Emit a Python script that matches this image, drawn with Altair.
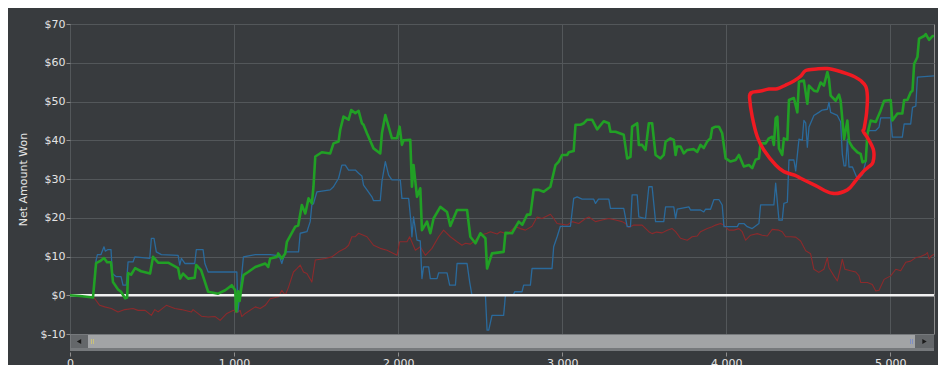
import altair as alt
import pandas as pd

# ---- data: (hand number, net amount won in $) ----
green_series = [
    (0, 0), (61, -0.2), (140, -0.6), (159, 8.3), (183, 8.8), (207, 9.6), (226, 8.5), (250, 8.5),
    (262, 3.4), (293, 1.5), (311, 0.9), (336, -0.8), (348, -0.6), (354, 5.7), (372, 5.3), (397, 7.0),
    (433, 6.2), (488, 5.6), (506, 9.9), (537, 8.4), (598, 8.4), (659, 7.0), (671, 4.3), (689, 5.6),
    (720, 4.3), (760, 4.5), (769, 7.8), (799, 6.5), (842, 0.9), (903, 0.4), (946, 1.3), (986, 2.6),
    (1007, 1.3), (1013, -4.2), (1025, 1.0), (1034, -1.5), (1043, 1.5), (1057, 5.2), (1086, 6.0),
    (1129, 7.3), (1190, 8.2), (1208, 7.3), (1220, 9.5), (1261, 9.9), (1269, 10.8), (1291, 9.5),
    (1312, 10.8), (1322, 13.8), (1373, 17.7), (1391, 18.0), (1413, 23.3), (1434, 21.1), (1454, 25.0),
    (1474, 23.7), (1484, 28.0), (1495, 35.8), (1535, 36.9), (1586, 36.6), (1606, 39.2), (1637, 39.7),
    (1647, 42.7), (1667, 46.1), (1698, 45.3), (1714, 47.8), (1739, 47.0), (1759, 47.6), (1779, 44.4),
    (1789, 44.0), (1810, 41.8), (1850, 37.9), (1891, 36.6), (1901, 41.8), (1922, 46.5), (1942, 43.5),
    (1962, 40.5), (1993, 40.5), (2009, 43.5), (2023, 38.8), (2033, 40.0), (2074, 40.1), (2084, 28.0),
    (2094, 33.6), (2115, 25.4), (2135, 27.6), (2145, 16.8), (2176, 19.0), (2196, 16.0), (2216, 19.8),
    (2257, 22.8), (2298, 21.5), (2318, 17.9), (2359, 22.0), (2420, 22.0), (2440, 15.1), (2471, 13.4),
    (2501, 16.0), (2532, 14.7), (2542, 6.9), (2572, 10.8), (2643, 11.2), (2654, 16.1), (2694, 16.0),
    (2735, 19.0), (2757, 18.2), (2786, 20.8), (2806, 20.8), (2826, 27.2), (2857, 27.2), (2887, 26.7),
    (2928, 28.0), (2959, 33.6), (2979, 34.5), (2999, 36.2), (3030, 36.2), (3040, 36.9), (3070, 37.2),
    (3081, 44.0), (3111, 44.0), (3132, 44.4), (3152, 45.3), (3182, 45.3), (3213, 42.8), (3253, 44.9),
    (3284, 44.4), (3294, 42.2), (3325, 42.2), (3375, 41.4), (3396, 35.3), (3416, 35.7), (3426, 43.5),
    (3457, 44.4), (3467, 38.8), (3487, 38.8), (3508, 37.5), (3528, 44.4), (3548, 44.4), (3569, 36.2),
    (3599, 35.3), (3619, 36.2), (3630, 39.6), (3660, 40.5), (3680, 40.1), (3691, 36.2), (3701, 38.4),
    (3721, 38.4), (3741, 36.6), (3762, 37.5), (3802, 37.7), (3823, 37.0), (3843, 38.8), (3863, 38.0),
    (3884, 39.7), (3904, 40.5), (3914, 43.1), (3935, 43.5), (3955, 43.5), (3975, 41.8), (3996, 35.3),
    (4026, 34.5), (4057, 34.9), (4077, 36.2), (4107, 33.2), (4138, 33.6), (4158, 32.8), (4179, 35.0),
    (4199, 35.3), (4209, 39.2), (4240, 39.2), (4260, 40.5), (4280, 40.9), (4290, 38.8), (4301, 45.7),
    (4311, 46.1), (4321, 37.9), (4341, 36.2), (4351, 40.5), (4372, 40.1), (4382, 50.4), (4412, 50.9),
    (4433, 47.2), (4443, 55.1), (4473, 55.4), (4494, 49.4), (4504, 54.1), (4534, 52.8), (4555, 52.6),
    (4575, 54.9), (4595, 54.1), (4616, 57.6), (4626, 55.8), (4636, 51.5), (4667, 50.2), (4687, 51.8),
    (4697, 50.2), (4718, 40.3), (4738, 45.1), (4748, 39.7), (4769, 38.2), (4799, 36.9), (4819, 36.5),
    (4830, 34.3), (4850, 34.7), (4860, 41.6), (4880, 45.1), (4911, 44.7), (4941, 47.7), (4962, 50.2),
    (5002, 50.4), (5012, 45.1), (5043, 46.9), (5073, 46.9), (5084, 50.4), (5104, 50.4), (5124, 52.4),
    (5135, 52.8), (5145, 59.7), (5165, 61.5), (5175, 66.2), (5206, 66.9), (5216, 67.4), (5236, 65.9),
    (5257, 66.9), (5266, 66.9),
]

blue_series = [
    (0, 0), (140, -0.5), (159, 9.0), (167, 10.5), (189, 10.5), (207, 12.5), (215, 11.4), (232, 11.8),
    (250, 11.8), (258, 5.6), (282, 4.8), (311, 4.8), (323, 2.6), (343, 2.6), (354, 8.6), (384, 8.6),
    (395, 9.9), (486, 9.5), (496, 14.7), (512, 14.7), (526, 11.2), (557, 10.5), (659, 10.3), (669, 7.8),
    (679, 9.5), (700, 8.2), (760, 8.2), (770, 11.8), (811, 11.8), (822, 8.2), (842, 6.0), (1017, 6.0),
    (1023, -4.3), (1037, 1.0), (1057, 9.9), (1129, 10.5), (1220, 10.5), (1269, 10.2), (1281, 9.5),
    (1291, 8.2), (1312, 11.2), (1393, 11.2), (1403, 16.0), (1444, 16.4), (1464, 19.0), (1474, 23.3),
    (1484, 23.6), (1505, 26.7), (1586, 27.2), (1606, 28.0), (1637, 30.2), (1657, 33.6), (1678, 33.6),
    (1698, 32.3), (1739, 32.3), (1759, 31.5), (1779, 30.8), (1789, 28.4), (1810, 27.2), (1840, 25.4),
    (1850, 24.4), (1891, 24.4), (1901, 29.3), (1922, 34.5), (1942, 31.0), (1962, 29.8), (2013, 29.8),
    (2023, 25.0), (2064, 25.0), (2078, 19.0), (2084, 15.1), (2094, 20.2), (2115, 14.2), (2135, 14.0),
    (2145, 4.3), (2155, 7.3), (2186, 7.3), (2196, 4.3), (2237, 4.3), (2247, 5.8), (2298, 5.8),
    (2314, 2.6), (2349, 2.6), (2359, 8.2), (2420, 8.2), (2436, 3.4), (2450, 0), (2532, 0), (2542, -9.0),
    (2552, -9.0), (2572, -5.2), (2643, -5.2), (2654, 0), (2702, 0), (2710, 0.9), (2755, 0.9),
    (2765, 2.6), (2806, 2.6), (2816, 6.9), (2938, 6.9), (2948, 12.5), (2969, 15.1), (2989, 17.8),
    (3050, 17.8), (3070, 25.0), (3091, 25.4), (3121, 24.8), (3192, 24.8), (3203, 23.7), (3221, 24.8),
    (3284, 24.8), (3294, 22.4), (3375, 22.4), (3396, 17.7), (3416, 17.7), (3426, 25.9), (3457, 25.9),
    (3467, 20.2), (3508, 19.8), (3528, 28.0), (3548, 28.0), (3569, 19.0), (3619, 19.0), (3630, 22.8),
    (3680, 22.8), (3691, 19.8), (3701, 22.2), (3772, 22.8), (3782, 22.0), (3843, 22.0), (3863, 21.5),
    (3874, 22.2), (3904, 22.2), (3925, 24.7), (3955, 24.7), (3975, 23.3), (3986, 17.7), (4067, 17.7),
    (4077, 18.5), (4107, 18.5), (4128, 17.7), (4158, 17.2), (4199, 18.5), (4209, 23.3), (4290, 23.3),
    (4301, 28.9), (4321, 19.4), (4341, 19.4), (4351, 23.7), (4372, 24.0), (4382, 34.9), (4412, 34.9),
    (4423, 32.1), (4443, 40.3), (4463, 40.0), (4473, 45.1), (4484, 44.5), (4494, 38.2), (4504, 43.4),
    (4534, 46.4), (4564, 47.2), (4585, 47.8), (4616, 48.0), (4626, 49.8), (4636, 47.2), (4677, 46.4),
    (4697, 44.7), (4707, 36.5), (4718, 33.4), (4728, 33.4), (4738, 40.3), (4748, 33.1), (4769, 33.1),
    (4799, 30.0), (4830, 31.1), (4850, 34.5), (4860, 41.6), (4870, 42.5), (4911, 42.5), (4931, 43.4),
    (4941, 45.8), (5002, 45.8), (5012, 40.8), (5073, 40.8), (5084, 44.2), (5124, 44.2), (5135, 48.5),
    (5155, 48.8), (5165, 56.3), (5266, 56.6),
]

red_series = [
    (0, 0), (61, 0.2), (140, -0.3), (151, -0.9), (181, -2.6), (212, -3.0), (252, -3.4), (293, -4.3),
    (334, -3.7), (384, -3.4), (415, -3.9), (458, -3.9), (496, -5.2), (517, -3.7), (537, -4.3),
    (587, -2.6), (639, -3.4), (679, -3.7), (740, -4.3), (750, -3.7), (801, -5.4), (842, -5.6),
    (885, -5.5), (915, -6.5), (956, -4.7), (996, -3.9), (1017, -4.5), (1037, -3.9), (1047, -5.5),
    (1068, -4.7), (1129, -3.0), (1159, -3.4), (1190, -2.6), (1220, -0.9), (1271, -0.4), (1291, 1.3),
    (1312, 0.0), (1332, 2.1), (1362, 6.0), (1383, 6.9), (1403, 7.8), (1423, 6.0), (1444, 5.6),
    (1474, 3.4), (1495, 9.1), (1556, 9.5), (1596, 9.9), (1637, 11.2), (1678, 12.1), (1698, 12.9),
    (1718, 15.1), (1739, 15.1), (1759, 16.0), (1781, 15.6), (1810, 15.1), (1850, 12.9), (1891, 12.1),
    (1932, 11.6), (1972, 10.8), (1993, 10.3), (2009, 13.8), (2054, 13.8), (2070, 15.1), (2105, 11.6),
    (2135, 12.5), (2166, 10.3), (2206, 12.1), (2247, 15.1), (2277, 16.8), (2318, 15.1), (2359, 13.8),
    (2389, 12.9), (2410, 13.4), (2440, 13.2), (2471, 14.2), (2501, 15.5), (2542, 16.0), (2562, 16.4),
    (2603, 15.8), (2623, 16.4), (2664, 15.8), (2715, 17.7), (2745, 17.2), (2776, 16.8), (2816, 17.8),
    (2847, 20.2), (2877, 19.8), (2928, 20.9), (2948, 19.8), (2969, 18.5), (3030, 18.1), (3060, 19.0),
    (3101, 18.5), (3142, 19.8), (3162, 20.2), (3203, 19.0), (3243, 19.4), (3284, 19.8), (3325, 19.4),
    (3365, 19.0), (3386, 18.5), (3406, 17.5), (3436, 18.1), (3487, 18.1), (3528, 16.4), (3548, 15.9),
    (3575, 16.3), (3609, 16.1), (3640, 16.8), (3670, 17.2), (3691, 16.4), (3721, 14.7), (3762, 14.2),
    (3792, 15.1), (3823, 15.3), (3843, 16.4), (3884, 17.2), (3914, 17.7), (3935, 18.1), (3965, 18.5),
    (3985, 18.1), (4016, 16.8), (4046, 16.8), (4077, 17.2), (4097, 16.4), (4118, 14.2), (4148, 15.5),
    (4189, 15.9), (4219, 15.5), (4250, 15.3), (4280, 17.0), (4321, 16.8), (4341, 16.4), (4362, 15.1),
    (4392, 15.1), (4423, 15.0), (4453, 14.0), (4484, 11.5), (4514, 10.7), (4534, 6.7), (4564, 5.9),
    (4595, 6.7), (4616, 9.7), (4626, 7.1), (4656, 5.0), (4677, 3.7), (4697, 7.2), (4707, 9.3),
    (4723, 6.7), (4758, 6.3), (4789, 6.0), (4809, 5.0), (4819, 3.3), (4860, 3.3), (4890, 2.8),
    (4911, 1.1), (4931, 1.3), (4962, 4.1), (5002, 5.0), (5033, 6.7), (5063, 6.3), (5094, 8.5),
    (5124, 8.8), (5155, 9.7), (5185, 10.0), (5216, 10.6), (5226, 11.0), (5236, 9.3), (5246, 10.0),
    (5266, 10.6),
]

# hand-drawn highlight loop (hand, $)
highlight_loop = [
    (4142, 51.5), (4160, 52.4), (4209, 52.7), (4260, 53.2), (4311, 53.3), (4360, 54.2), (4412, 55.3),
    (4453, 56.5), (4484, 58.0), (4550, 58.4), (4616, 58.5), (4690, 57.8), (4738, 57.1), (4790, 56.2),
    (4819, 55.4), (4850, 53.9), (4860, 51.3), (4855, 47.0), (4840, 43.0), (4835, 42.3), (4870, 40.0),
    (4898, 37.3), (4894, 34.3), (4870, 33.2), (4839, 32.1), (4789, 29.6), (4738, 27.2), (4646, 26.3),
    (4545, 28.3), (4453, 30.2), (4423, 30.9), (4351, 31.9), (4301, 33.6), (4229, 37.5), (4189, 40.9),
    (4158, 46.1), (4142, 50.9), (4148, 52.2),
]

x_ticks = [0, 1000, 2000, 3000, 4000, 5000]
y_ticks = [-10, 0, 10, 20, 30, 40, 50, 60, 70]
x_max = 5266
y_title = "Net Amount Won"

# ---- styling ----
BG = "#383b3e"
GRID = "#53575a"
BORDER = "#8e8e8e"
TEXT = "#e4e4e4"
FONT = "DejaVu Sans"
W, H = 864, 310


def frame(pairs):
    return pd.DataFrame(pairs, columns=["hand", "value"])


xs = alt.Scale(domain=[0, x_max], nice=False, zero=False)
ys = alt.Scale(domain=[-10, 70], nice=False, zero=False)

x_axis = alt.Axis(values=x_ticks, tickCount=len(x_ticks), format=",d", grid=True, gridColor=GRID,
                  domain=False, ticks=True, tickColor=BORDER, tickSize=4, offset=18,
                  labelColor=TEXT, labelFont=FONT, labelFontSize=11, labelPadding=1,
                  labelFlush=False, labelOverlap=False, title=None)
y_axis = alt.Axis(values=y_ticks, tickCount=len(y_ticks), labelExpr="'$' + datum.value",
                  grid=True, gridColor=GRID, domain=False, ticks=True, tickColor=BORDER,
                  tickSize=4, labelPadding=1, labelOverlap=False, labelColor=TEXT,
                  labelFont=FONT, labelFontSize=11, title=y_title, titleColor=TEXT,
                  titleFont=FONT, titleFontSize=11, titleFontWeight="normal", titleAngle=270,
                  titleX=-47, titleY=H / 2, titleAlign="center", titleBaseline="middle")

X = alt.X("hand:Q", scale=xs, axis=x_axis)
Y = alt.Y("value:Q", scale=ys, axis=y_axis)


def series_line(pairs, color, width):
    return alt.Chart(frame(pairs)).mark_line(color=color, strokeWidth=width, clip=True,
                                             strokeJoin="round").encode(
        x=X, y=Y, order="hand:Q")


red = series_line(red_series, "#8c2a2c", 1.1)
blue = series_line(blue_series, "#2a6a9c", 1.3)
zero = alt.Chart(pd.DataFrame({"value": [0]})).mark_rule(color="#f2f2f2", strokeWidth=2.5).encode(
    y=Y, x=alt.value(0), x2=alt.value(W))
green = series_line(green_series, "#21a025", 2.6)

loop_df = frame(highlight_loop)
loop_df["i"] = range(len(loop_df))
loop = alt.Chart(loop_df).mark_line(color="#f01a22", strokeWidth=3.5, interpolate="cardinal",
                                    strokeCap="round", strokeJoin="round").encode(
    x=X, y=Y, order="i:Q")

# ---- scrollbar decoration below the plot ----
one = pd.DataFrame({"k": [0]})


def rect(x1, x2, y1, y2, color):
    return alt.Chart(one).mark_rect(color=color).encode(
        x=alt.value(x1), x2=alt.value(x2), y=alt.value(y1), y2=alt.value(y2))


def vrule(x, y1, y2, color):
    return alt.Chart(one).mark_rule(color=color, strokeWidth=1).encode(
        x=alt.value(x), y=alt.value(y1), y2=alt.value(y2))


track = rect(0, W, H, H + 17, "#76797c")
thumb = rect(18, W - 19, H + 1, H + 14, "#a2a4a6")
lbtn = rect(1, 18, H + 1, H + 14, "#64676a")
rbtn = rect(W - 19, W, H + 1, H + 14, "#64676a")
ltri = alt.Chart(one).mark_point(shape="triangle-left", filled=True, size=26, color="#1c1c1c",
                                 opacity=1).encode(x=alt.value(9), y=alt.value(H + 7.5))
rtri = alt.Chart(one).mark_point(shape="triangle-right", filled=True, size=26, color="#1c1c1c",
                                 opacity=1).encode(x=alt.value(W - 9.5), y=alt.value(H + 7.5))
grips = [vrule(21.5, H + 5, H + 10, "#c9c27a"), vrule(23.5, H + 5, H + 10, "#c9c27a"),
         vrule(W - 23.5, H + 5, H + 10, "#7f8fc4"), vrule(W - 21.5, H + 5, H + 10, "#7f8fc4")]

chart = alt.layer(red, blue, zero, green, loop, track, thumb, lbtn, rbtn, ltri, rtri, *grips).properties(
    width=W, height=H, padding={"left": 62, "top": 16, "right": 4, "bottom": 31},
    autosize=alt.AutoSizeParams(type="none"), background=BG,
).configure_view(stroke=BORDER, strokeWidth=1, fill=BG)

chart.save("out.html", embed_options={"renderer": "svg", "actions": False})
